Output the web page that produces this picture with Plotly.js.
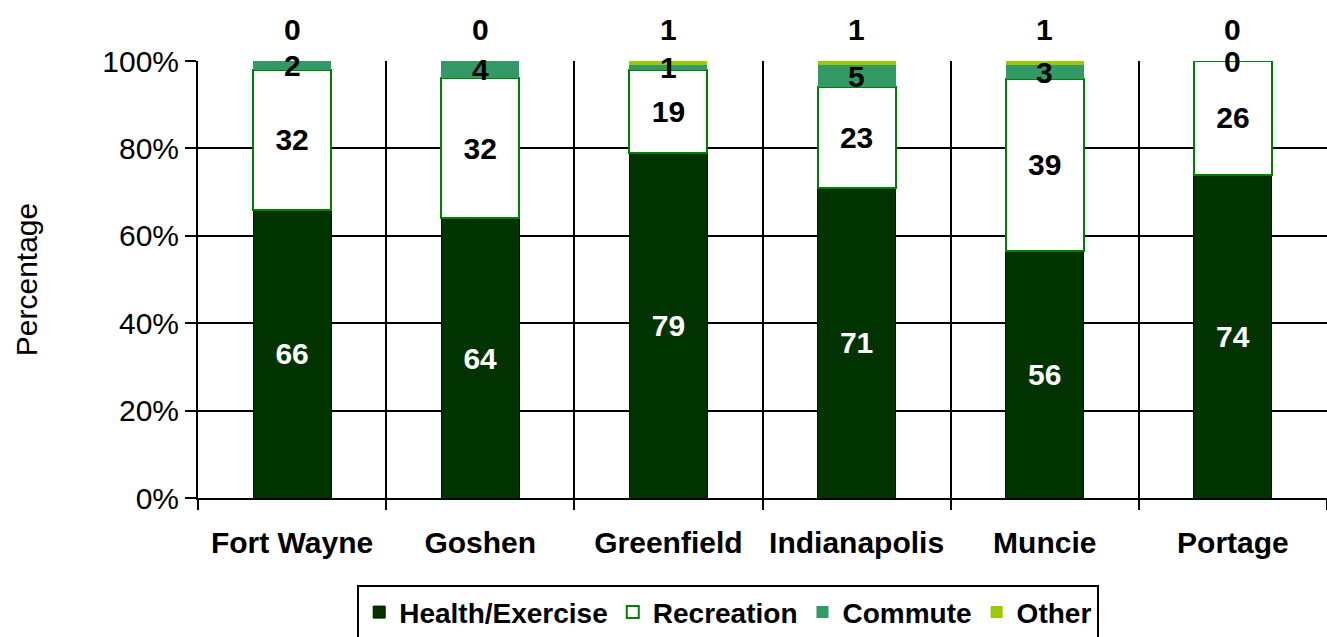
<!DOCTYPE html>
<html>
<head>
<meta charset="utf-8">
<script src="https://cdn.plot.ly/plotly-3.0.1.min.js"></script>
<style>html,body{margin:0;padding:0;background:#fff;}#chart{width:1327px;height:637px;}</style>
</head>
<body>
<div id="chart"></div>
<script>
const categories = ['Fort Wayne', 'Goshen', 'Greenfield', 'Indianapolis', 'Muncie', 'Portage'];
const health = [66, 64, 79, 71, 56, 74];
const recreation = [32, 32, 19, 23, 39, 26];
const commute = [2, 4, 1, 5, 3, 0];
const other = [0, 0, 1, 1, 1, 0];
const yTicks = [0, 20, 40, 60, 80, 100];

const FONT = 'Liberation Sans, Arial, sans-serif';
const labelFont = (c) => ({family: FONT, size: 30, color: c, weight: 'bold'});

const traces = [
  {name: 'Health/Exercise', y: health, marker: {color: '#003300', line: {color: '#001a00', width: 1}},
   text: health.map(String), textposition: 'inside', insidetextanchor: 'middle', textfont: labelFont('#ffffff')},
  {name: 'Recreation', y: recreation, marker: {color: '#ffffff', line: {color: '#008000', width: 2}},
   text: recreation.map(String), textposition: 'inside', insidetextanchor: 'middle', textfont: labelFont('#000000')},
  {name: 'Commute', y: commute, marker: {color: '#339966', line: {width: 0}}, textposition: 'none'},
  {name: 'Other', y: other, marker: {color: '#99cc00', line: {width: 0}}, textposition: 'none'}
].map(t => Object.assign({type: 'bar', x: categories, hoverinfo: 'x+y+name', constraintext: 'none', cliponaxis: false}, t));

const annotations = [];
categories.forEach((c, i) => {
  const total = health[i] + recreation[i] + commute[i] + other[i];
  const base = (health[i] + recreation[i]) / total * 100;
  annotations.push({x: c, y: base + commute[i] / total * 50, text: String(commute[i]), showarrow: false,
    font: labelFont('#000000'), xref: 'x', yref: 'y'});
  annotations.push({x: c, y: 100, yshift: 32, text: String(other[i]), showarrow: false,
    font: labelFont('#000000'), xref: 'x', yref: 'y'});
});

const layout = {
  width: 1327, height: 637,
  margin: {l: 198, r: 0, t: 61, b: 139, autoexpand: false},
  paper_bgcolor: '#ffffff', plot_bgcolor: '#ffffff',
  font: {family: FONT, color: '#000000'},
  barmode: 'stack', barnorm: 'percent', bargap: 0.585,
  showlegend: true,
  xaxis: {type: 'category', tickson: 'boundaries', ticks: 'outside', ticklen: 10, tickwidth: 2, tickcolor: '#000',
    ticklabelstandoff: 17, automargin: false,
    showgrid: true, gridcolor: '#000', gridwidth: 2, showline: true, linecolor: '#000', linewidth: 2,
    tickfont: {family: FONT, size: 30, weight: 'bold', color: '#000'}, fixedrange: true},
  yaxis: {range: [0, 100], tickvals: yTicks, ticktext: yTicks.map(v => v + '%'), automargin: false,
    ticks: 'outside', ticklen: 11, tickwidth: 2, tickcolor: '#000',
    showgrid: true, gridcolor: '#000', gridwidth: 2, showline: true, linecolor: '#000', linewidth: 2,
    zeroline: false,
    tickfont: {family: FONT, size: 30, color: '#000'},
    title: {text: 'Percentage', font: {family: FONT, size: 30, color: '#000'}, standoff: 56}, fixedrange: true},
  legend: {orientation: 'h', x: 0.141, xanchor: 'left', y: -0.2, yanchor: 'top',
    bordercolor: '#000', borderwidth: 2, bgcolor: '#fff',
    font: {family: FONT, size: 28, weight: 'bold', color: '#000'}, traceorder: 'normal'},
  annotations: annotations
};

Plotly.newPlot('chart', traces, layout, {displayModeBar: false, staticPlot: true});
</script>
</body>
</html>
